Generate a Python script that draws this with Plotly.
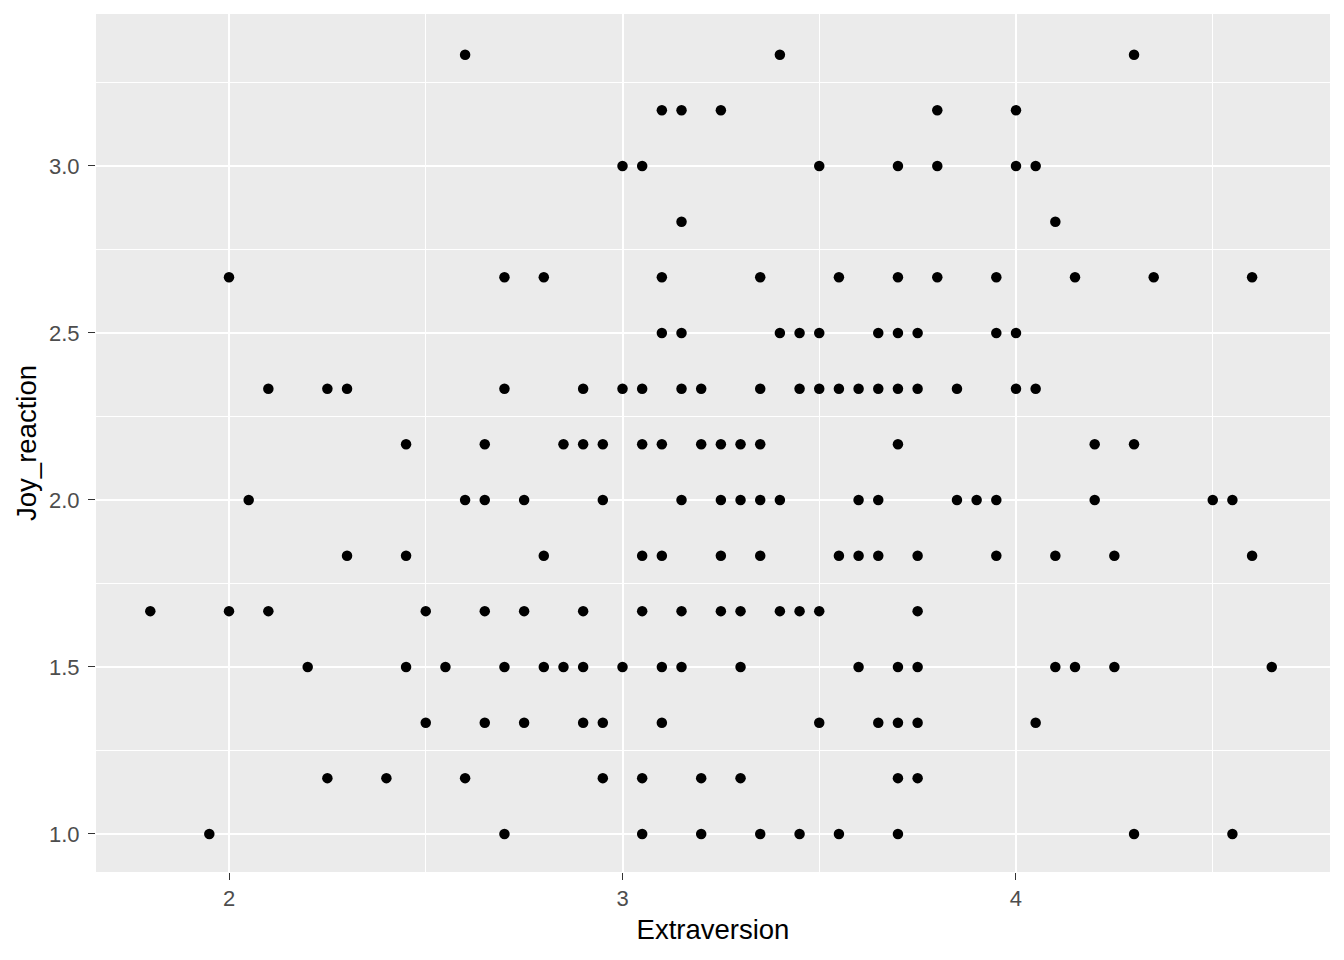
"""Scatter of Joy_reaction against Extraversion, styled like ggplot2's theme_gray."""

import plotly.graph_objects as go

FONT = "Liberation Sans, Arial, sans-serif"
PANEL_BG = "#EBEBEB"
TICK_TEXT = "#4D4D4D"

# Joy_reaction levels (rows of the plot) and the Extraversion scores on each row
JOY_LEVELS = [1.0, 1.167, 1.333, 1.5, 1.667, 1.833, 2.0, 2.167,
              2.333, 2.5, 2.667, 2.833, 3.0, 3.167, 3.333]

EXTRA_AT_1_000 = [1.95, 2.7, 3.05, 3.2, 3.35, 3.45, 3.55, 3.7, 4.3, 4.55]
EXTRA_AT_1_167 = [2.25, 2.4, 2.6, 2.95, 3.05, 3.2, 3.3, 3.7, 3.75]
EXTRA_AT_1_333 = [2.5, 2.65, 2.75, 2.9, 2.95, 3.1, 3.5, 3.65, 3.7, 3.75, 4.05]
EXTRA_AT_1_500 = [2.2, 2.45, 2.55, 2.7, 2.8, 2.85, 2.9, 3.0, 3.1, 3.15, 3.3,
                  3.6, 3.7, 3.75, 4.1, 4.15, 4.25, 4.65]
EXTRA_AT_1_667 = [1.8, 2.0, 2.1, 2.5, 2.65, 2.75, 2.9, 3.05, 3.15, 3.25, 3.3,
                  3.4, 3.45, 3.5, 3.75]
EXTRA_AT_1_833 = [2.3, 2.45, 2.8, 3.05, 3.1, 3.25, 3.35, 3.55, 3.6, 3.65, 3.75,
                  3.95, 4.1, 4.25, 4.6]
EXTRA_AT_2_000 = [2.05, 2.6, 2.65, 2.75, 2.95, 3.15, 3.25, 3.3, 3.35, 3.4, 3.6,
                  3.65, 3.85, 3.9, 3.95, 4.2, 4.5, 4.55]
EXTRA_AT_2_167 = [2.45, 2.65, 2.85, 2.9, 2.95, 3.05, 3.1, 3.2, 3.25, 3.3, 3.35,
                  3.7, 4.2, 4.3]
EXTRA_AT_2_333 = [2.1, 2.25, 2.3, 2.7, 2.9, 3.0, 3.05, 3.15, 3.2, 3.35, 3.45,
                  3.5, 3.55, 3.6, 3.65, 3.7, 3.75, 3.85, 4.0, 4.05]
EXTRA_AT_2_500 = [3.1, 3.15, 3.4, 3.45, 3.5, 3.65, 3.7, 3.75, 3.95, 4.0]
EXTRA_AT_2_667 = [2.0, 2.7, 2.8, 3.1, 3.35, 3.55, 3.7, 3.8, 3.95, 4.15, 4.35, 4.6]
EXTRA_AT_2_833 = [3.15, 4.1]
EXTRA_AT_3_000 = [3.0, 3.05, 3.5, 3.7, 3.8, 4.0, 4.05]
EXTRA_AT_3_167 = [3.1, 3.15, 3.25, 3.8, 4.0]
EXTRA_AT_3_333 = [2.6, 3.4, 4.3]

EXTRA_BY_LEVEL = [
    EXTRA_AT_1_000, EXTRA_AT_1_167, EXTRA_AT_1_333, EXTRA_AT_1_500,
    EXTRA_AT_1_667, EXTRA_AT_1_833, EXTRA_AT_2_000, EXTRA_AT_2_167,
    EXTRA_AT_2_333, EXTRA_AT_2_500, EXTRA_AT_2_667, EXTRA_AT_2_833,
    EXTRA_AT_3_000, EXTRA_AT_3_167, EXTRA_AT_3_333,
]

X_TICKS = [2, 3, 4]
Y_TICKS = [1.0, 1.5, 2.0, 2.5, 3.0]

extraversion = []
joy = []
for level, xs in zip(JOY_LEVELS, EXTRA_BY_LEVEL):
    extraversion.extend(xs)
    joy.extend([level] * len(xs))

fig = go.Figure(
    go.Scatter(
        x=extraversion,
        y=joy,
        mode="markers",
        marker=dict(color="black", size=10.5, line_width=0),
        hoverinfo="x+y",
    )
)

axis_common = dict(
    showgrid=True,
    gridcolor="white",
    gridwidth=2,
    zeroline=False,
    showline=False,
    ticks="outside",
    ticklen=7,
    tickwidth=1.4,
    tickcolor="#333333",
    tickfont=dict(family=FONT, size=22, color=TICK_TEXT),
)

# the page body has an 8px margin, so the figure is sized and padded for it
fig.update_layout(
    width=1328,
    height=944,
    paper_bgcolor="white",
    plot_bgcolor=PANEL_BG,
    margin=dict(l=88, r=6, t=6, b=80),
    showlegend=False,
    font=dict(family=FONT, color="black"),
    xaxis=dict(
        **axis_common,
        range=[1.662, 4.798],
        tickvals=X_TICKS,
        ticktext=[str(v) for v in X_TICKS],
        minor=dict(dtick=0.5, tick0=1.5, showgrid=True, gridcolor="white",
                   gridwidth=1, ticks=""),
        title=dict(text="Extraversion", font=dict(family=FONT, size=27.5),
                   standoff=9),
    ),
    yaxis=dict(
        **axis_common,
        range=[0.886, 3.455],
        tickvals=Y_TICKS,
        ticktext=[f"{v:.1f}" for v in Y_TICKS],
        ticklabelstandoff=4,
        minor=dict(dtick=0.25, tick0=0.75, showgrid=True, gridcolor="white",
                   gridwidth=1, ticks=""),
        title=dict(text="Joy_reaction", font=dict(family=FONT, size=27.5),
                   standoff=4),
    ),
)

fig.write_html("out.html")
